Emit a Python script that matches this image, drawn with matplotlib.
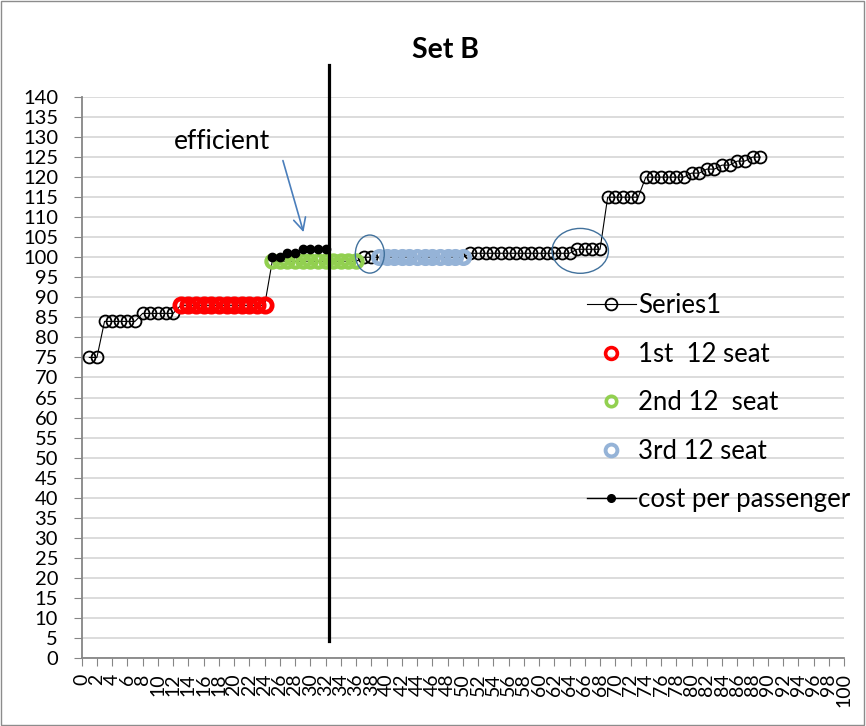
import numpy as np
import matplotlib
matplotlib.use("Agg")
import matplotlib.pyplot as plt
from matplotlib.lines import Line2D
from matplotlib.patches import Ellipse, Rectangle

plt.rcParams['font.family'] = ['Lato', 'DejaVu Sans']

# cost by number of seats sold
seats = np.arange(1, 90)
series1 = [75, 75,
           84, 84, 84, 84, 84,
           86, 86, 86, 86, 86,
           88, 88, 88, 88, 88, 88, 88, 88, 88, 88, 88, 88,
           99, 99, 99, 99, 99, 99, 99, 99, 99, 99, 99, 99,
           100, 100, 100, 100, 100, 100, 100, 100, 100, 100, 100, 100, 100, 100,
           101, 101, 101, 101, 101, 101, 101, 101, 101, 101, 101, 101, 101, 101,
           102, 102, 102, 102,
           115, 115, 115, 115, 115,
           120, 120, 120, 120, 120, 120,
           121, 121, 122, 122, 123, 123, 124, 124, 125, 125]

first12_x = [13, 14, 15, 16, 17, 18, 19, 20, 21, 22, 23, 24]
first12_y = [88, 88, 88, 88, 88, 88, 88, 88, 88, 88, 88, 88]
second12_x = [25, 26, 27, 28, 29, 30, 31, 32, 33, 34, 35, 36]
second12_y = [99, 99, 99, 99, 99, 99, 99, 99, 99, 99, 99, 99]
third12_x = [39, 40, 41, 42, 43, 44, 45, 46, 47, 48, 49, 50]
third12_y = [100, 100, 100, 100, 100, 100, 100, 100, 100, 100, 100, 100]

cost_x = [25, 26, 27, 28, 29, 30, 31, 32]
cost_y = [100, 100, 101, 101, 102, 102, 102, 102]

RED = '#ff0000'
GREEN = '#92d050'
BLUE = '#95b3d7'
OUTLINE = '#41719c'

fig = plt.figure(figsize=(8.66, 7.26), dpi=100)
ax = fig.add_axes([0.0943, 0.0937, 0.8803, 0.7727])

ax.plot(seats, series1, color='black', lw=0.8, marker='o', ms=8.6,
        mfc='none', mec='black', mew=1.3, zorder=3)
ax.plot(first12_x, first12_y, ls='none', marker='o', ms=9.6,
        mfc='none', mec=RED, mew=3.4, zorder=4)
ax.plot(second12_x, second12_y, ls='none', marker='o', ms=8.8,
        mfc='none', mec=GREEN, mew=3.0, zorder=4)
ax.plot(third12_x, third12_y, ls='none', marker='o', ms=9.0,
        mfc='none', mec=BLUE, mew=3.3, zorder=4)
ax.plot(cost_x, cost_y, color='black', lw=1.0, marker='o', ms=6,
        mfc='black', mec='black', zorder=5)

# break-even divider
ax.plot([32.5, 32.5], [4.2, 148], color='black', lw=2.3, clip_on=False, zorder=6)

ax.add_patch(Ellipse((37.8, 100.8), 3.8, 9.5, fill=False, ec=OUTLINE, lw=1.0, zorder=6))
ax.add_patch(Ellipse((65.4, 101.6), 7.4, 11.2, fill=False, ec=OUTLINE, lw=1.0, zorder=6))

ax.annotate('', xy=(29.2, 105.6), xytext=(26.3, 124.8),
            arrowprops=dict(arrowstyle='->', color='#4a7ebb', lw=1.2, mutation_scale=22))
ax.text(18.4, 129, 'efficient', ha='center', va='center', fontsize=19)

ax.set_xlim(0, 100)
ax.set_ylim(0, 140)
ax.set_xticks(np.arange(0, 101, 2))
ax.set_yticks(np.arange(0, 141, 5))
ax.tick_params(axis='x', labelsize=14, rotation=90, length=6, color='#868686', pad=5)
ax.tick_params(axis='y', labelsize=14.5, length=6, color='#868686', pad=11)
ax.yaxis.grid(True, color='#d9d9d9', lw=1.3)
ax.set_axisbelow(True)
for side in ('top', 'right'):
    ax.spines[side].set_visible(False)
for side in ('left', 'bottom'):
    ax.spines[side].set_color('#868686')
    ax.spines[side].set_linewidth(1.3)

handles = [
    Line2D([], [], color='black', lw=0.8, marker='o', ms=8.5, mfc='none', mec='black', mew=1.3),
    Line2D([], [], ls='none', marker='o', ms=8.5, mfc='none', mec=RED, mew=2.6),
    Line2D([], [], ls='none', marker='o', ms=7.5, mfc='none', mec=GREEN, mew=2.6),
    Line2D([], [], ls='none', marker='o', ms=8.5, mfc='none', mec=BLUE, mew=2.8),
    Line2D([], [], color='black', lw=1.0, marker='o', ms=5.5, mfc='black', mec='black'),
]
labels = ['Series1', '1st  12 seat', '2nd 12  seat', '3rd 12 seat', 'cost per passenger']
fig.legend(handles, labels, loc='upper left', bbox_to_anchor=(0.666, 0.610),
           frameon=False, fontsize=18.5, labelspacing=0.91, handlelength=1.9,
           handletextpad=0.1, borderaxespad=0)

fig.text(0.514, 0.931, 'Set B', ha='center', va='center', fontsize=20.5, fontweight='bold')
fig.patches.append(Rectangle((0.001, 0.001), 0.997, 0.997, transform=fig.transFigure,
                             fill=False, ec='#8c8c8c', lw=1))

fig.savefig('out.png', dpi=100)
